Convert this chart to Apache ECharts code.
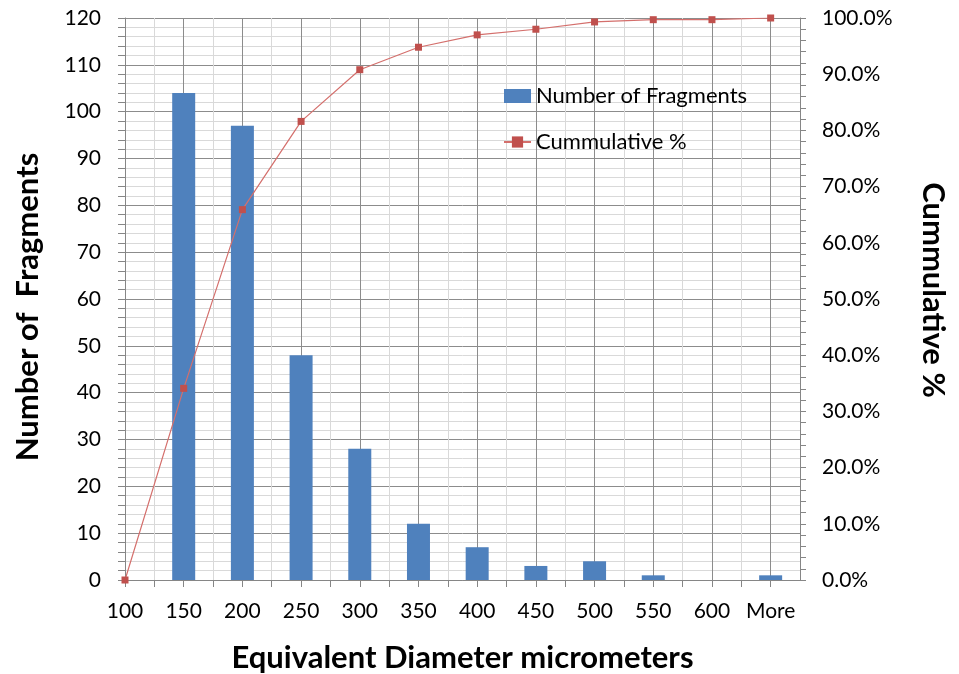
<!DOCTYPE html>
<html>
<head>
<meta charset="utf-8">
<script src="https://cdn.jsdelivr.net/npm/echarts@6/dist/echarts.min.js"></script>
<style>html,body{margin:0;padding:0;background:#fff}#c{width:959px;height:674px}</style>
</head>
<body>
<div id="c"></div>
<script>
var categories = ['100','150','200','250','300','350','400','450','500','550','600','More'];
var fragments = [0, 104, 97, 48, 28, 12, 7, 3, 4, 1, 0, 1];
var cumulative = [0, 34.1, 65.9, 81.6, 90.8, 94.8, 97.0, 98.0, 99.3, 99.7, 99.7, 100.0];
var leftTicks = {min: 0, max: 120, interval: 10};
var rightTicks = {min: 0, max: 100, interval: 10};

var barData = categories.map(function (c, i) { return [i, fragments[i]]; });
var lineData = categories.map(function (c, i) { return [i, cumulative[i]]; });

var FONT = 'Lato';
function titleStyle(pad) {
  return {fontFamily: FONT, fontSize: 31, fontWeight: 'bold', color: '#000', padding: pad};
}
var chart = echarts.init(document.getElementById('c'), null, {renderer: 'canvas'});
chart.setOption({
  animation: false,
  backgroundColor: '#ffffff',
  textStyle: {fontFamily: FONT},
  grid: {left: 125, right: 159, top: 18, bottom: 94, containLabel: false, outerBoundsMode: 'none'},
  legend: {
    orient: 'vertical',
    left: 503,
    top: 85,
    padding: 0,
    itemGap: 24,
    itemWidth: 27,
    itemHeight: 14,
    textStyle: {fontFamily: FONT, fontSize: 22, color: '#000'},
    data: [{name: 'Number of Fragments', icon: 'rect'}, {name: 'Cummulative %'}]
  },
  xAxis: {
    type: 'value',
    min: 0,
    max: categories.length - 0.5,
    interval: 0.5,
    name: 'Equivalent Diameter micrometers',
    nameLocation: 'middle',
    nameGap: 62,
    nameTextStyle: titleStyle(0),
    axisLine: {show: true, lineStyle: {color: '#868686', width: 1}},
    axisTick: {show: true, length: 7, lineStyle: {color: '#868686'}},
    axisLabel: {
      fontFamily: FONT, fontSize: 21, color: '#000', margin: 21,
      showMaxLabel: false,
      formatter: function (v) {
        var r = Math.round(v * 2) / 2;
        return (Math.abs(r - Math.round(r)) < 1e-6 && categories[Math.round(r)] !== undefined) ? categories[Math.round(r)] : '';
      }
    },
    splitLine: {show: true, lineStyle: {color: ['#8c8c8c', '#d9d9d9'], width: 1}}
  },
  yAxis: [{
    type: 'value',
    min: leftTicks.min, max: leftTicks.max, interval: leftTicks.interval,
    name: 'Number of  Fragments',
    nameLocation: 'middle',
    nameGap: 82,
    nameTextStyle: titleStyle([0, 16, 0, 0]),
    axisLine: {show: true, lineStyle: {color: '#868686'}},
    axisTick: {show: true, length: 7, lineStyle: {color: '#868686'}},
    minorTick: {show: true, splitNumber: 5, length: 7, lineStyle: {color: '#868686'}},
    axisLabel: {fontFamily: FONT, fontSize: 21, color: '#000', margin: 24},
    splitLine: {show: true, lineStyle: {color: '#8c8c8c', width: 1}},
    minorSplitLine: {show: true, lineStyle: {color: '#d9d9d9', width: 1}}
  }, {
    type: 'value',
    position: 'right',
    min: rightTicks.min, max: rightTicks.max, interval: rightTicks.interval,
    name: 'Cummulative %',
    nameLocation: 'middle',
    nameRotate: -90,
    nameGap: 117,
    nameTextStyle: titleStyle([0, 18, 0, 0]),
    axisLine: {show: true, lineStyle: {color: '#868686'}},
    axisTick: {show: true, length: 6, lineStyle: {color: '#868686'}},
    minorTick: {show: true, splitNumber: 5, length: 6, lineStyle: {color: '#868686'}},
    axisLabel: {fontFamily: FONT, fontSize: 21, color: '#000', margin: 22,
      formatter: function (v) { return v.toFixed(1) + '%'; }},
    splitLine: {show: false}
  }],
  series: [{
    name: 'Number of Fragments',
    type: 'bar',
    data: barData,
    barWidth: 23,
    itemStyle: {color: '#4F81BD'},
    z: 2
  }, {
    name: 'Cummulative %',
    type: 'line',
    yAxisIndex: 1,
    data: lineData,
    symbol: 'rect',
    symbolSize: 7,
    showAllSymbol: true,
    lineStyle: {color: '#D46F6C', width: 1.2},
    itemStyle: {color: '#C0504D'},
    z: 3
  }]
});
</script>
</body>
</html>
